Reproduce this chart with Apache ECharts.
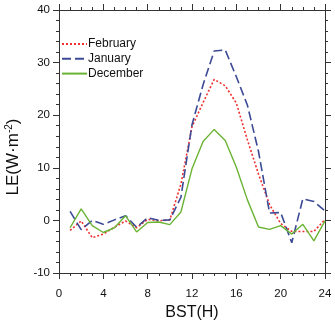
<!DOCTYPE html>
<html>
<head>
<meta charset="utf-8">
<script src="https://cdn.jsdelivr.net/npm/echarts@6/dist/echarts.min.js"></script>
<style>
  html, body { margin: 0; padding: 0; background: #fff; }
  #main { width: 335px; height: 326px; }
</style>
</head>
<body>
<div id="main"></div>
<script>
// hours (BST) and LE values per month
var hours = [1, 2, 3, 4, 5, 6, 7, 8, 9, 10, 11, 12, 13, 14, 15, 16, 17, 18, 19, 20, 21, 22, 23, 24];
var february = [-1.9, -0.1, -3.3, -2.6, -1.3, -0.1, -1.4, 0.2, -0.1, 0.1, 6.9, 17.8, 22.4, 26.8, 25.6, 22.3, 15.3, 8.8, 3.0, -0.6, -2.1, -2.1, -2.1, 0.2];
var january = [1.7, -1.75, 0, -0.75, 0.1, 0.9, -1.3, 0.5, 0, 0.1, 4.4, 18.2, 25.8, 32.2, 32.4, 27.3, 21.9, 13.1, 1.4, 1.5, -4.25, 4.1, 3.6, 1.8];
var december = [-1.4, 2.2, -1, -2.3, -1.4, 0.9, -2.2, -0.4, -0.3, -0.8, 1.6, 9.8, 15, 17.3, 15.2, 10.1, 3.9, -1.25, -1.7, -1.0, -2.6, -0.75, -3.9, -0.1];
var seriesNames = ["February", "January", "December"];
var xTicks = [0, 4, 8, 12, 16, 20, 24];
var yTicks = [-10, 0, 10, 20, 30, 40];

var font = "'Liberation Sans', Arial, sans-serif";
var axisColor = "#333";

function pairs(vals) {
  return hours.map(function (h, i) { return [h, vals[i]]; });
}

// shared look for the four frame axes
function frameAxis(extra) {
  var ax = {
    type: "value",
    axisLine: { show: true, onZero: false, lineStyle: { color: axisColor, width: 1 } },
    axisTick: { show: true, inside: false, length: 6, lineStyle: { color: axisColor, width: 1 } },
    splitLine: { show: false },
    axisLabel: { show: false }
  };
  for (var k in extra) ax[k] = extra[k];
  return ax;
}

function minor(n) {
  return { show: true, splitNumber: n, length: 3, lineStyle: { color: axisColor, width: 1 } };
}

var xBase = { min: xTicks[0], max: xTicks[xTicks.length - 1], interval: 4 };
var yBase = { min: yTicks[0], max: yTicks[yTicks.length - 1], interval: 10 };

var chart = echarts.init(document.getElementById("main"));
chart.setOption({
  animation: false,
  backgroundColor: "#fff",
  grid: { left: 59, right: 10, top: 10, bottom: 49 },
  legend: {
    orient: "vertical",
    left: 61,
    top: 38,
    padding: 0,
    itemWidth: 25,
    itemHeight: 12,
    itemGap: 2.8,
    itemStyle: { opacity: 0 },  // hide the symbol dot, keep the line sample
    data: seriesNames,
    textStyle: { fontFamily: font, fontSize: 12, color: "#111", padding: [0, 0, 0, -4] }
  },
  xAxis: [
    frameAxis({
      position: "bottom", min: xBase.min, max: xBase.max, interval: xBase.interval,
      minorTick: minor(4),
      axisLabel: { show: true, margin: 15, fontFamily: font, fontSize: 11.5, color: "#111" },
      name: "BST(H)", nameLocation: "middle", nameGap: 32,
      nameTextStyle: { fontFamily: font, fontSize: 16, color: "#111" }
    }),
    frameAxis({
      position: "top", min: xBase.min, max: xBase.max, interval: xBase.interval,
      minorTick: minor(4)
    })
  ],
  yAxis: [
    frameAxis({
      position: "left", min: yBase.min, max: yBase.max, interval: yBase.interval,
      minorTick: minor(5),
      axisLabel: { show: true, margin: 9, fontFamily: font, fontSize: 11.5, color: "#111" }
    }),
    frameAxis({
      position: "right", min: yBase.min, max: yBase.max, interval: yBase.interval,
      minorTick: minor(5)
    })
  ],
  // y title with superscript
  graphic: [{
    type: "text",
    x: 13,
    y: 157,
    rotation: Math.PI / 2,
    style: {
      text: "LE(W·m{sup|-2})",
      align: "center",
      verticalAlign: "middle",
      font: "17px " + font,
      fill: "#111",
      rich: {
        sup: { fontSize: 10, fontFamily: font, verticalAlign: "top", fill: "#111", padding: [0, 0, 8, 0] }
      }
    }
  }],
  series: [
    {
      name: seriesNames[0], type: "line", data: pairs(february), symbol: "none",
      itemStyle: { color: "#f03030" },
      lineStyle: { color: "#f03030", width: 1.6, type: [2, 2] }
    },
    {
      name: seriesNames[1], type: "line", data: pairs(january), symbol: "none",
      itemStyle: { color: "#3c4a96" },
      lineStyle: { color: "#3c4a96", width: 1.6, type: [9, 4] }
    },
    {
      name: seriesNames[2], type: "line", data: pairs(december), symbol: "none",
      itemStyle: { color: "#6ab334" },
      lineStyle: { color: "#6ab334", width: 1.4 }
    }
  ]
});
</script>
</body>
</html>
